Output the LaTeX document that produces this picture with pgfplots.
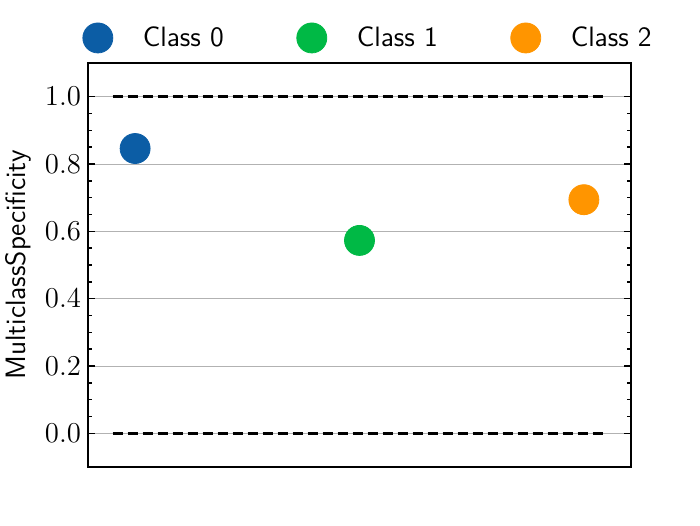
\documentclass[border=0pt]{standalone}
\usepackage{pgfplots}
\pgfplotsset{compat=1.18}
\definecolor{c0}{HTML}{0C5DA5}
\definecolor{c1}{HTML}{00B945}
\definecolor{c2}{HTML}{FF9500}
\begin{document}
\begin{tikzpicture}
\useasboundingbox (-44pt,-29pt) rectangle (306pt,233.5pt);
\begin{axis}[
  scale only axis, width=271.5pt, height=202pt,
  xmin=-0.21, xmax=2.21, ymin=-0.1, ymax=1.1,
  xtick=\empty,
  ytick={0,0.2,0.4,0.6,0.8,1.0},
  minor y tick num=3,
  ytick pos=both,
  tick align=inside,
  major tick length=3.5pt, minor tick length=2pt,
  ymajorgrids, major grid style={gray!60, line width=0.5pt},
  axis line style={line width=0.9pt},
  every tick/.style={black, line width=0.7pt},
  yticklabel style={/pgf/number format/.cd, fixed, fixed zerofill, precision=1},
  ticklabel style={font=\fontsize{14}{16}\selectfont},
  ylabel={MulticlassSpecificity},
  ylabel style={font=\fontsize{14}{16}\selectfont\sffamily},
  legend image code/.code={\draw[#1] plot coordinates {(0pt,0pt)};},
  legend style={draw=none, fill=none, at={(0.518,1.062)}, anchor=center,
    legend columns=3, font=\fontsize{14}{16}\selectfont\sffamily,
    /tikz/every odd column/.append style={column sep=13pt},
    /tikz/every even column/.append style={column sep=34.5pt}},
]
\addplot[black, line width=1.3pt, dash pattern=on 5pt off 2.5pt, forget plot] coordinates {(-0.1,1) (2.1,1)};
\addplot[black, line width=1.3pt, dash pattern=on 5pt off 2.5pt, forget plot] coordinates {(-0.1,0) (2.1,0)};
\addplot[only marks, mark=*, mark size=7.5pt, color=c0, mark options={draw=c0, fill=c0}] coordinates {(0,0.846)};
\addlegendentry{Class 0}
\addplot[only marks, mark=*, mark size=7.5pt, color=c1, mark options={draw=c1, fill=c1}] coordinates {(1,0.573)};
\addlegendentry{Class 1}
\addplot[only marks, mark=*, mark size=7.5pt, color=c2, mark options={draw=c2, fill=c2}] coordinates {(2,0.694)};
\addlegendentry{Class 2}
\end{axis}
\end{tikzpicture}
\end{document}
